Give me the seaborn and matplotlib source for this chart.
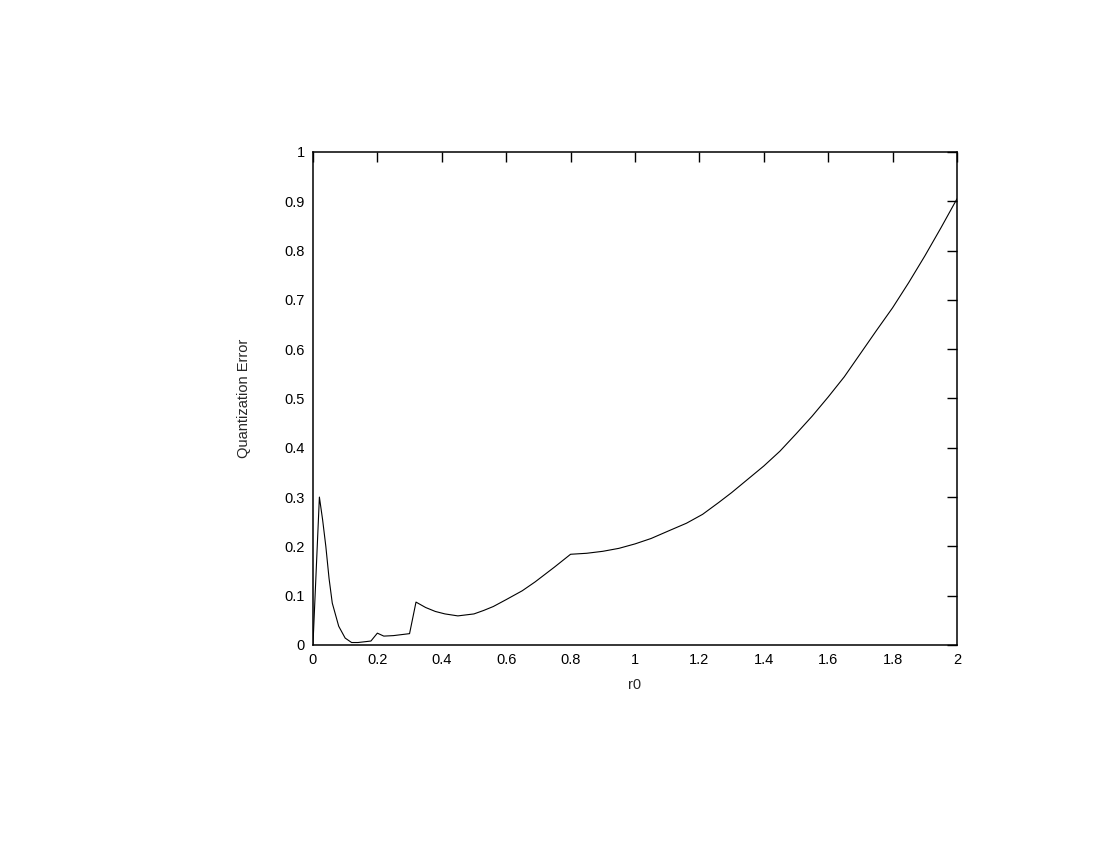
import matplotlib
matplotlib.use("Agg")
import matplotlib.pyplot as plt
import seaborn as sns
import pandas as pd

# values
r0 = [0.0, 0.02, 0.03, 0.04, 0.05, 0.06, 0.08, 0.10, 0.12, 0.14, 0.18, 0.20,
      0.22, 0.25, 0.30, 0.32, 0.35, 0.38, 0.41, 0.45, 0.50, 0.53, 0.56, 0.60,
      0.65, 0.69, 0.75, 0.80, 0.85, 0.90, 0.95, 1.00, 1.05, 1.11, 1.16, 1.21,
      1.26, 1.30, 1.35, 1.40, 1.45, 1.50, 1.55, 1.60, 1.65, 1.70, 1.75, 1.80,
      1.85, 1.90, 1.95, 2.0]
qerr = [0.0, 0.30, 0.254, 0.20, 0.135, 0.085, 0.038, 0.014, 0.005, 0.005, 0.008, 0.024,
        0.018, 0.019, 0.023, 0.087, 0.076, 0.068, 0.063, 0.059, 0.063, 0.070, 0.078, 0.092,
        0.110, 0.128, 0.158, 0.184, 0.186, 0.190, 0.196, 0.205, 0.216, 0.233, 0.247, 0.265,
        0.289, 0.309, 0.336, 0.363, 0.393, 0.428, 0.464, 0.503, 0.544, 0.591, 0.638, 0.684,
        0.735, 0.789, 0.846, 0.905]

x_ticks = [0, 0.2, 0.4, 0.6, 0.8, 1.0, 1.2, 1.4, 1.6, 1.8, 2.0]
x_tick_labels = ['0', '0.2', '0.4', '0.6', '0.8', '1', '1.2', '1.4', '1.6', '1.8', '2']
y_ticks = [0, 0.1, 0.2, 0.3, 0.4, 0.5, 0.6, 0.7, 0.8, 0.9, 1.0]
y_tick_labels = ['0', '0.1', '0.2', '0.3', '0.4', '0.5', '0.6', '0.7', '0.8', '0.9', '1']

sns.set_style('white')
plt.rcParams['font.family'] = ['Liberation Sans', 'DejaVu Sans']

df = pd.DataFrame({'r0': r0, 'err': qerr})

fig = plt.figure(figsize=(11, 8.5), dpi=100)
ax = fig.add_axes([0.2845, 0.2412, 0.5855, 0.58])
sns.lineplot(data=df, x='r0', y='err', ax=ax, color='black', linewidth=0.8)

ax.set_xlim(0, 2)
ax.set_ylim(0, 1)
ax.set_xticks(x_ticks)
ax.set_xticklabels(x_tick_labels)
ax.set_yticks(y_ticks)
ax.set_yticklabels(y_tick_labels)
ax.tick_params(direction='in', length=7, width=1, top=True, right=True,
               labelsize=10.5, colors='black', pad=6)
for s in ax.spines.values():
    s.set_color('black')
    s.set_linewidth(1.1)

ax.set_xlabel('r0', fontsize=10.5, labelpad=8)
ax.set_ylabel('Quantization Error', fontsize=10.5, labelpad=24)

fig.savefig('out.png', dpi=100, facecolor='white')
